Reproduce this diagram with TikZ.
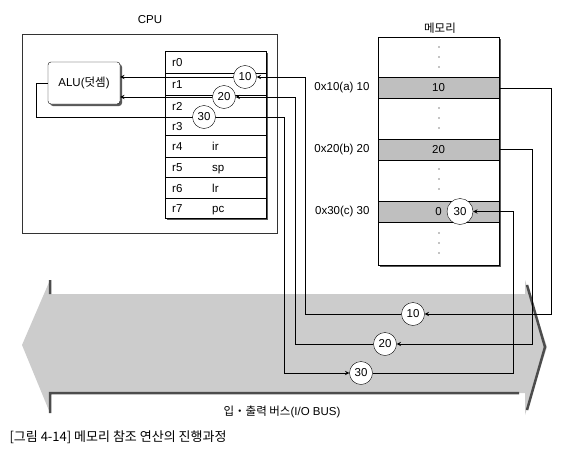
\documentclass[tikz,border=0pt]{standalone}
\usepackage{fontspec}
\setmainfont{Liberation Sans}
\newfontfamily\kr{Noto Sans CJK KR}
\usetikzlibrary{shadows}

\begin{document}
\begin{tikzpicture}[x=1pt, y=-1pt, >=stealth, font=\fontsize{11.5}{13}\selectfont, box/.style={draw, fill=white, general shadow={fill=black!65, shadow xshift=2pt, shadow yshift=-2pt}}, alubox/.style={box, rounded corners=3pt, minimum width=72pt, minimum height=42pt}, memrow/.style={draw, fill=black!25, minimum width=121pt, minimum height=21pt, inner sep=0pt}, val/.style={circle, draw, fill=white, inner sep=0pt, minimum size=23pt}, reg/.style={anchor=base west, inner sep=0pt}, link/.style={line width=0.9pt}]
  {
  \useasboundingbox (0,0) rectangle (569,460);

  \fill[black!20] (22,345) -- (50,280) -- (50,294) -- (525,294) -- (525,280) -- (547,347) -- (525,415) -- (525,393) -- (50,393) -- (50,413) -- cycle;
  \draw[black!70, line width=2.5pt] (50,280) -- (50,294) (50,413) -- (50,393) -- (519,393) (527,285) -- (545,347) -- (527,410);
  \node (bus) at (282,412) {{\kr 입・출력 버스}(I/O BUS)};

  \node[draw, black!80, minimum width=255pt, minimum height=199pt] (cpu) at (149.5,133.5) {};
  \node (cpulbl) at (150,20) {CPU};

  \node[box, minimum width=101pt, minimum height=167pt] (regs) at (215.5,134.5) {};
  \foreach \y in {73,95,117,135,157,177,198}
    \draw (165,\y) -- (266,\y);
  \foreach \n/\y/\v in {0/66/,1/88/,2/110/,3/130/,4/150/ir,5/171/sp,6/192/lr,7/212/pc} {
    \node[reg] (r\n) at (172,\y) {r\n};
    \node[reg] (v\n) at (212,\y) {\v};
  }
  \node[alubox] (alu) at (84,83) {ALU({\kr 덧셈})};

  \node[box, minimum width=121pt, minimum height=228pt] (mem) at (438.5,151) {};
  \node (memlbl) at (440,28) {\kr 메모리};
  \node[memrow] (m10) at (438.5,88) {10};
  \node[memrow] (m20) at (438.5,149.5) {20};
  \node[memrow] (m30) at (438.5,211.5) {0};
  \node[anchor=east] (a10) at (373,88) {0x10(a) 10};
  \node[anchor=east] (a20) at (373,149.5) {0x20(b) 20};
  \node[anchor=east] (a30) at (373,211.5) {0x30(c) 30};
  \foreach \y in {47,57,67,108,118,128,169,179,189,233,243,253}
    \fill (439,\y) circle (0.6);

  \node[val] (c10cpu) at (245,77) {10};
  \node[val] (c20cpu) at (224,97) {20};
  \node[val] (c30cpu) at (204,117) {30};
  \node[val] (c10bus) at (413,314) {10};
  \node[val] (c20bus) at (385,344) {20};
  \node[val] (c30bus) at (361,373) {30};
  \node[val, minimum size=26pt] (c30mem) at (460,211.5) {30};

  \coordinate (k10) at (551,314);
  \coordinate (j10) at (305,77);
  \coordinate (k20) at (532,344);
  \coordinate (j20) at (295,97);
  \coordinate (l30) at (36,117);
  \coordinate (j30) at (284,373);
  \coordinate (k30) at (513,211.5);

  \draw[link, ->] (m10.east) -| (k10) -- (c10bus);
  \draw[link, ->] (c10bus) -| (j10) -- (c10cpu);
  \draw[link, ->] (c10cpu) -- (alu.east |- c10cpu);
  \draw[link, ->] (m20.east) -| (k20) -- (c20bus);
  \draw[link, ->] (c20bus) -| (j20) -- (c20cpu);
  \draw[link, ->] (c20cpu) -- (alu.east |- c20cpu);
  \draw[link] (alu.west) -| (l30) -- (c30cpu);
  \draw[link, ->] (c30cpu) -| (j30) -- (c30bus);
  \draw[link, ->] (c30bus) -| (k30) -- (c30mem);

  \node[anchor=west] (cap) at (6,437) {\kr\fontsize{13}{15}\selectfont [그림 4-14] 메모리 참조 연산의 진행과정};
  }
\end{tikzpicture}
\end{document}
